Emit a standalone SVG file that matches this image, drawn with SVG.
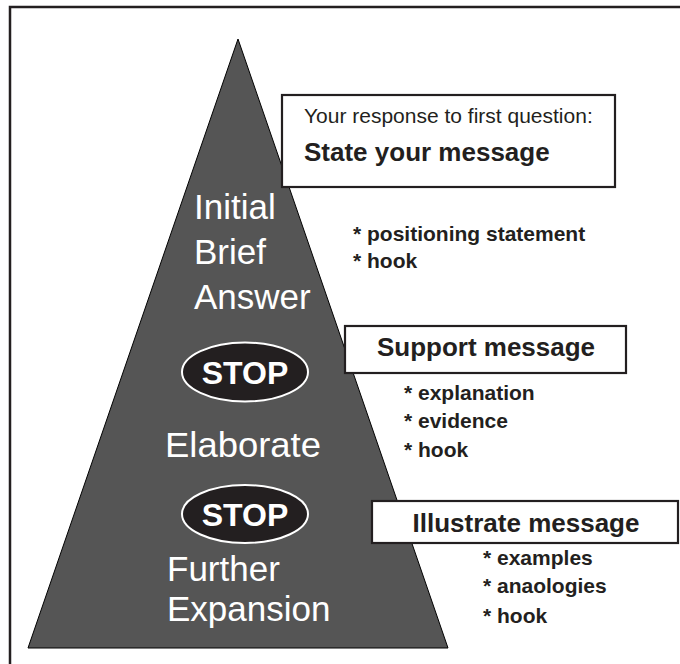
<svg xmlns="http://www.w3.org/2000/svg" width="680" height="664" viewBox="0 0 680 664">
<style>
.frame{fill:none;stroke:#231f20;stroke-width:2.5}
.tri{fill:#555555;stroke:#000;stroke-width:1}
.box{fill:#fff;stroke:#231f20;stroke-width:2.2}
.stop{fill:#231f20;stroke:#fff;stroke-width:2}
.w{fill:#fff;font-family:"Liberation Sans",Arial,sans-serif;font-size:35px}
.stopt{fill:#fff;font-family:"Liberation Sans",Arial,sans-serif;font-size:32px;font-weight:bold;text-anchor:middle}
.reg{fill:#231f20;font-family:"Liberation Sans",Arial,sans-serif;font-size:21px}
.head{fill:#231f20;font-family:"Liberation Sans",Arial,sans-serif;font-size:26px;font-weight:bold}
.bul{fill:#231f20;font-family:"Liberation Sans",Arial,sans-serif;font-size:21px;font-weight:bold}
</style>
<rect width="680" height="664" fill="#fff"/>
<rect class="frame" x="10" y="7" width="720" height="720"/>
<g id="pyramid">
<polygon class="tri" points="238,39 448,648 28,648"/>
<text class="w" x="194" y="219">Initial</text>
<text class="w" x="194" y="264">Brief</text>
<text class="w" x="194" y="309">Answer</text>
<text class="w" x="165" y="457" textLength="156" lengthAdjust="spacingAndGlyphs">Elaborate</text>
<text class="w" x="167" y="581">Further</text>
<text class="w" x="167" y="621">Expansion</text>
</g>
<g id="stop1">
<ellipse class="stop" cx="245" cy="372" rx="63" ry="29.5"/>
<text class="stopt" x="245" y="384">STOP</text>
</g>
<g id="stop2">
<ellipse class="stop" cx="245" cy="514" rx="63" ry="29"/>
<text class="stopt" x="245" y="526">STOP</text>
</g>
<g id="state">
<rect class="box" x="282" y="95" width="333" height="92"/>
<text class="reg" x="304" y="123">Your response to first question:</text>
<text class="head" x="304" y="161">State your message</text>
</g>
<g id="state-points">
<text class="bul" x="353" y="241">* positioning statement</text>
<text class="bul" x="353" y="268">* hook</text>
</g>
<g id="support">
<rect class="box" x="345" y="326" width="281" height="47"/>
<text class="head" x="486" y="356" text-anchor="middle">Support message</text>
</g>
<g id="support-points">
<text class="bul" x="404" y="400">* explanation</text>
<text class="bul" x="404" y="428">* evidence</text>
<text class="bul" x="404" y="457">* hook</text>
</g>
<g id="illustrate">
<rect class="box" x="372" y="501" width="306" height="42"/>
<text class="head" x="526" y="532" text-anchor="middle">Illustrate message</text>
</g>
<g id="illustrate-points">
<text class="bul" x="483" y="565">* examples</text>
<text class="bul" x="483" y="593">* anaologies</text>
<text class="bul" x="483" y="623">* hook</text>
</g>
</svg>
